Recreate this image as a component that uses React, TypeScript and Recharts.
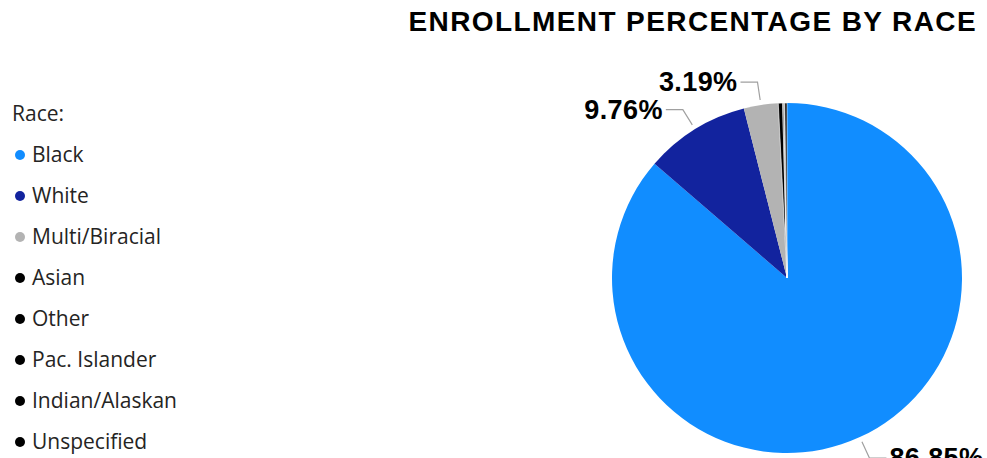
import React from 'react';
import { PieChart, Pie, Cell } from 'recharts';

// Enrollment share by race (percent)
const races = ['Black', 'White', 'Multi/Biracial', 'Asian', 'Other', 'Pac. Islander', 'Indian/Alaskan', 'Unspecified'];
const shares = [86.85, 9.76, 3.19, 0.4, 0.1, 0.05, 0.05, 0.2];
const colors = ['#118DFF', '#12239E', '#B3B3B3', '#000000', '#000000', '#000000', '#000000', '#000000'];
const labelledCount = 3;

const data = races.map((name, i) => ({ name, value: shares[i] }));

const RADIAN = Math.PI / 180;

const renderLabel = (props: any) => {
  const { cx, cy, midAngle, outerRadius, index, value } = props;
  if (index >= labelledCount) return null;
  const cos = Math.cos(-midAngle * RADIAN);
  const sin = Math.sin(-midAngle * RADIAN);
  const sx = cx + (outerRadius + 5) * cos;
  const sy = cy + (outerRadius + 5) * sin;
  const mx = cx + (outerRadius + 23) * cos;
  const my = cy + (outerRadius + 23) * sin;
  const dir = cos >= 0 ? 1 : -1;
  const ex = mx + dir * 17;
  return (
    <g>
      <polyline points={`${sx},${sy} ${mx},${my} ${ex},${my}`} stroke="#a0a0a0" strokeWidth={1.2} fill="none" />
      <text
        x={ex + dir * 3}
        y={my}
        textAnchor={dir > 0 ? 'start' : 'end'}
        dominantBaseline="central"
        fontFamily="'Liberation Sans', Arial, sans-serif"
        fontWeight="bold"
        fontSize={27}
        letterSpacing={0.4}
        fill="#000"
      >
        {value.toFixed(2)}%
      </text>
    </g>
  );
};

const RaceLegend = () => (
  <div
    style={{
      position: 'absolute',
      left: 12,
      top: 93,
      fontFamily: "'Open Sans', sans-serif",
      fontSize: 21,
      color: '#252423',
    }}
  >
    <div style={{ height: 41, lineHeight: '41px' }}>Race:</div>
    {races.map((r, i) => (
      <div key={r} style={{ height: 41, lineHeight: '41px', display: 'flex', alignItems: 'center' }}>
        <span
          style={{
            display: 'inline-block',
            width: 10,
            height: 10,
            borderRadius: 5,
            background: colors[i],
            marginLeft: 3,
            marginRight: 7,
          }}
        />
        {r}
      </div>
    ))}
  </div>
);

export default function App() {
  return (
    <div style={{ position: 'fixed', left: 0, top: 0, width: 987, height: 458, background: '#fff', overflow: 'hidden' }}>
      <div
        style={{
          position: 'absolute',
          right: 10,
          top: 6,
          fontFamily: "'Liberation Sans', Arial, sans-serif",
          fontWeight: 'bold',
          fontSize: 28,
          letterSpacing: 1.4,
          color: '#000',
        }}
      >
        ENROLLMENT PERCENTAGE BY RACE
      </div>
      <RaceLegend />
      <div style={{ position: 'absolute', left: 0, top: 0 }}>
        <PieChart width={987} height={458} margin={{ top: 0, right: 0, bottom: 0, left: 0 }}>
          <Pie
            data={data}
            dataKey="value"
            nameKey="name"
            cx={787}
            cy={278}
            outerRadius={175}
            startAngle={90}
            endAngle={-270}
            label={renderLabel}
            labelLine={false}
            isAnimationActive={false}
          >
            {data.map((entry, index) => (
              <Cell
                key={`cell-${index}`}
                fill={colors[index]}
                stroke={index >= labelledCount ? '#fff' : 'none'}
                strokeWidth={0.6}
              />
            ))}
          </Pie>
        </PieChart>
      </div>
    </div>
  );
}
